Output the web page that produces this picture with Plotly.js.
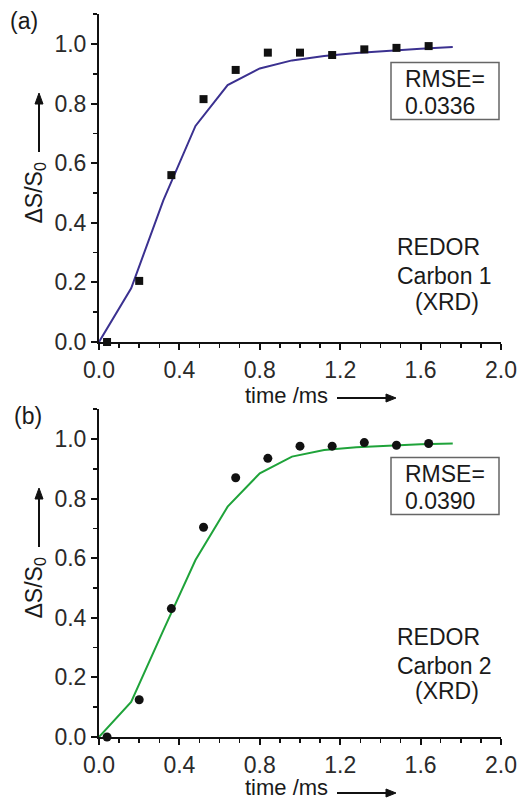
<!DOCTYPE html>
<html>
<head>
<meta charset="utf-8">
<script src="https://cdn.plot.ly/plotly-3.0.1.min.js"></script>
<style>html,body{margin:0;padding:0;background:#fff;}#chart{width:531px;height:800px;}</style>
</head>
<body>
<div id="chart"></div>
<script>
// Experimental REDOR points (time in ms)
const timeExp = [0.04, 0.2, 0.36, 0.52, 0.68, 0.84, 1.0, 1.16, 1.32, 1.48, 1.64];
const carbon1Exp = [0.0, 0.205, 0.56, 0.815, 0.913, 0.971, 0.971, 0.963, 0.982, 0.987, 0.993];
const carbon2Exp = [0.0, 0.125, 0.431, 0.704, 0.870, 0.935, 0.976, 0.976, 0.988, 0.979, 0.985];
// Simulated curves (XRD)
const timeFit = [0, 0.16, 0.32, 0.48, 0.64, 0.80, 0.96, 1.12, 1.28, 1.44, 1.60, 1.76];
const carbon1Fit = [0, 0.18, 0.475, 0.725, 0.862, 0.918, 0.945, 0.960, 0.970, 0.978, 0.984, 0.990];
const carbon2Fit = [0, 0.118, 0.358, 0.594, 0.773, 0.885, 0.941, 0.963, 0.972, 0.978, 0.982, 0.985];
const xTickVals = [0, 0.4, 0.8, 1.2, 1.6, 2.0];
const xTickText = ["0.0", "0.4", "0.8", "1.2", "1.6", "2.0"];
const yTickVals = [0, 0.2, 0.4, 0.6, 0.8, 1.0];
const yTickText = ["0.0", "0.2", "0.4", "0.6", "0.8", "1.0"];
const panelLabels = ["(a)", "(b)"];
const rmseValues = ["0.0336", "0.0390"];
const carbonLabels = ["Carbon 1", "Carbon 2"];

const W = 531, H = 800;
const px = v => v / W;
const py = v => 1 - v / H;
const FONT = "Liberation Sans, Arial, sans-serif";
const TXT = "#1a1a1a";

const traces = [
  {x: timeFit, y: carbon1Fit, type: "scatter", mode: "lines", line: {color: "#3b3190", width: 2}, xaxis: "x", yaxis: "y", cliponaxis: false},
  {x: timeExp, y: carbon1Exp, type: "scatter", mode: "markers", marker: {symbol: "square", size: 8, color: "#111"}, xaxis: "x", yaxis: "y", cliponaxis: false},
  {x: timeFit, y: carbon2Fit, type: "scatter", mode: "lines", line: {color: "#1fa33a", width: 2}, xaxis: "x2", yaxis: "y2", cliponaxis: false},
  {x: timeExp, y: carbon2Exp, type: "scatter", mode: "markers", marker: {symbol: "circle", size: 9, color: "#111"}, xaxis: "x2", yaxis: "y2", cliponaxis: false}
];

function xAxis(anchor) {
  return {
    anchor: anchor, domain: [px(99), px(501)], range: [0, 2.0],
    showline: true, linecolor: "#111", linewidth: 2, mirror: false,
    showgrid: false, zeroline: false,
    tickmode: "array", tickvals: xTickVals, ticktext: xTickText,
    ticks: "outside", ticklen: 6, tickwidth: 2, tickcolor: "#111",
    minor: {dtick: 0.1, ticks: "outside", ticklen: 4, tickwidth: 1.5, tickcolor: "#111", showgrid: false},
    tickfont: {family: FONT, size: 23, color: "#2a2a2a"}
  };
}
function yAxis(anchor, domain) {
  return {
    anchor: anchor, domain: domain, range: [0, 1.1],
    showline: true, linecolor: "#111", linewidth: 2,
    showgrid: false, zeroline: false,
    tickmode: "array", tickvals: yTickVals, ticktext: yTickText,
    ticks: "outside", ticklen: 6, tickwidth: 2, tickcolor: "#111",
    minor: {dtick: 0.1, ticks: "outside", ticklen: 4, tickwidth: 1.5, tickcolor: "#111", showgrid: false},
    tickfont: {family: FONT, size: 23, color: "#2a2a2a"}
  };
}

const annotations = [];
const shapes = [];
const panels = [{axisY: 342, titleOff: 53}, {axisY: 737, titleOff: 50}];
function pathStr(pts) {
  return "M " + pts.map(p => px(p[0]) + "," + py(p[1])).join(" L ") + " Z";
}
panels.forEach((p, i) => {
  const a = p.axisY;
  const f = {family: FONT, size: 23, color: TXT};
  // panel label
  annotations.push({xref: "paper", yref: "paper", x: px(i === 0 ? 24 : 28), y: py(a - 321), text: panelLabels[i], showarrow: false, font: f, xanchor: "center", yanchor: "middle"});
  // x title
  annotations.push({xref: "paper", yref: "paper", x: px(286), y: py(a + p.titleOff), text: "time /ms", showarrow: false, font: {family: FONT, size: 22, color: TXT}, xanchor: "center", yanchor: "middle"});
  // x arrow (line + head)
  const xa = a + 56;
  shapes.push({type: "line", xref: "paper", yref: "paper", x0: px(337), x1: px(388), y0: py(xa), y1: py(xa), line: {color: "#111", width: 2}});
  shapes.push({type: "path", xref: "paper", yref: "paper", path: pathStr([[386, xa - 4], [396, xa], [386, xa + 4]]), fillcolor: "#111", line: {color: "#111", width: 1}});
  // y title
  annotations.push({xref: "paper", yref: "paper", x: px(35), y: py(a - 148.5), text: "ΔS/S<sub>0</sub>", textangle: -90, showarrow: false, font: f, xanchor: "center", yanchor: "middle"});
  // y arrow
  const ya = 39;
  shapes.push({type: "line", xref: "paper", yref: "paper", x0: px(ya), x1: px(ya), y0: py(a - 190), y1: py(a - 240), line: {color: "#111", width: 2}});
  shapes.push({type: "path", xref: "paper", yref: "paper", path: pathStr([[ya - 4, a - 238], [ya, a - 249], [ya + 4, a - 238]]), fillcolor: "#111", line: {color: "#111", width: 1}});
  // RMSE box
  const boxTop = a - 279.5, boxBot = a - 222.5;
  shapes.push({type: "rect", xref: "paper", yref: "paper", x0: px(391), x1: px(499), y0: py(boxBot), y1: py(boxTop), line: {color: "#666", width: 1.5}, fillcolor: "rgba(0,0,0,0)"});
  annotations.push({xref: "paper", yref: "paper", x: px(403), y: py(a - 263.5), text: "RMSE=", showarrow: false, font: f, xanchor: "left", yanchor: "middle"});
  annotations.push({xref: "paper", yref: "paper", x: px(403), y: py(a - 235.5), text: rmseValues[i], showarrow: false, font: f, xanchor: "left", yanchor: "middle"});
  // REDOR labels
  const base = i === 0 ? [a - 95, a - 66, a - 40] : [a - 100, a - 71, a - 46];
  annotations.push({xref: "paper", yref: "paper", x: px(395), y: py(base[0]), text: "REDOR", showarrow: false, font: f, xanchor: "left", yanchor: "middle"});
  annotations.push({xref: "paper", yref: "paper", x: px(395), y: py(base[1]), text: carbonLabels[i], showarrow: false, font: f, xanchor: "left", yanchor: "middle"});
  annotations.push({xref: "paper", yref: "paper", x: px(413), y: py(base[2]), text: "(XRD)", showarrow: false, font: f, xanchor: "left", yanchor: "middle"});
});

const layout = {
  width: W, height: H,
  margin: {l: 0, r: 0, t: 0, b: 0},
  paper_bgcolor: "#ffffff", plot_bgcolor: "rgba(0,0,0,0)",
  showlegend: false,
  font: {family: FONT, color: TXT},
  xaxis: xAxis("y"),
  yaxis: yAxis("x", [py(342), py(14.2)]),
  xaxis2: xAxis("y2"),
  yaxis2: yAxis("x2", [py(737), py(409.2)]),
  annotations: annotations,
  shapes: shapes
};

Plotly.newPlot("chart", traces, layout, {staticPlot: true, displayModeBar: false});
</script>
</body>
</html>
